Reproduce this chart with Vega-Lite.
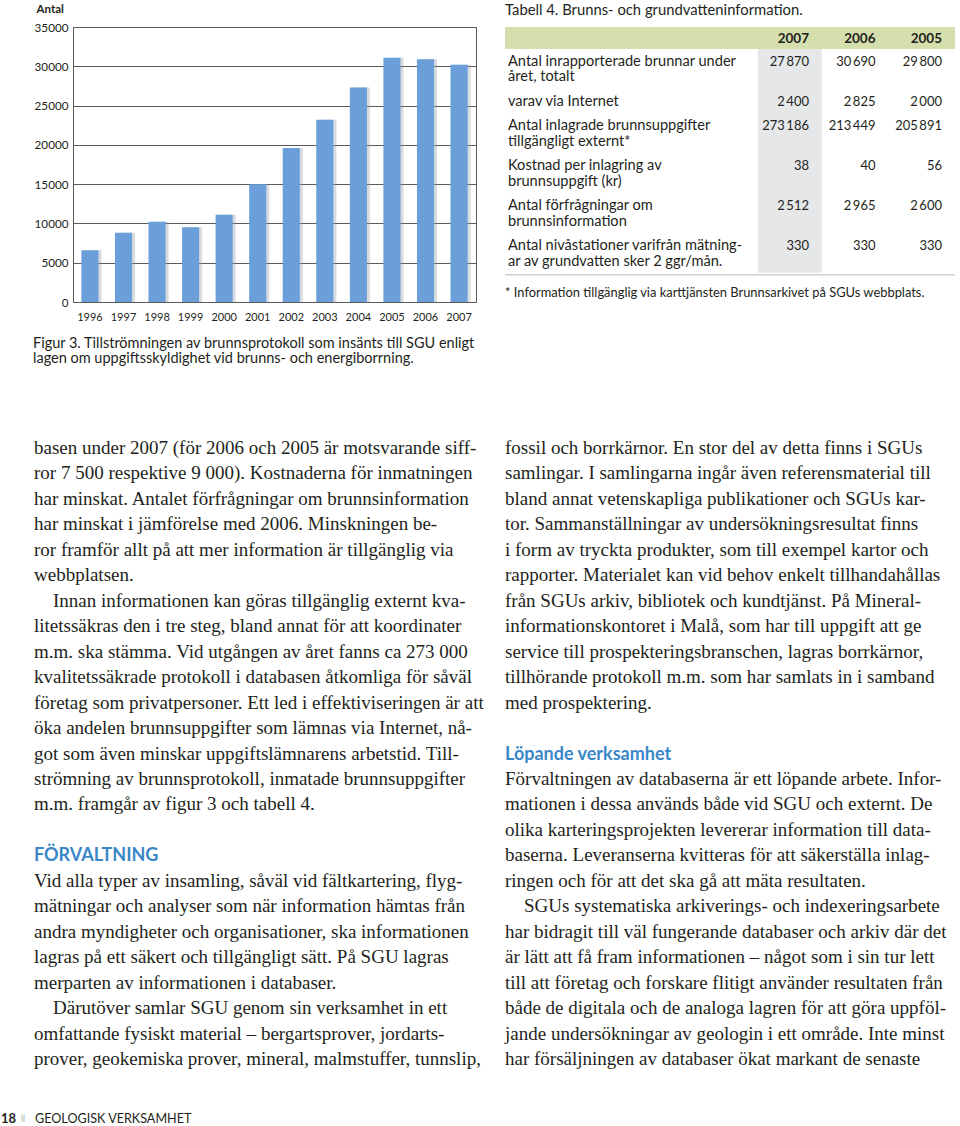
{
  "$schema": "https://vega.github.io/schema/vega-lite/v6.json",
  "background": "white",
  "padding": {"top": 3, "left": 0, "right": 0, "bottom": 0},
  "config": {
    "view": {"stroke": null},
    "font": "Lato",
    "locale": {"number": {"decimal": ",", "thousands": "\u2009", "grouping": [3], "currency": ["", " kr"]}}
  },
  "datasets": {
    "brunnar": [
      {"year": "1996", "antal": 6600},
      {"year": "1997", "antal": 8800},
      {"year": "1998", "antal": 10200},
      {"year": "1999", "antal": 9500},
      {"year": "2000", "antal": 11100},
      {"year": "2001", "antal": 15000},
      {"year": "2002", "antal": 19600},
      {"year": "2003", "antal": 23200},
      {"year": "2004", "antal": 27300},
      {"year": "2005", "antal": 31100},
      {"year": "2006", "antal": 30900},
      {"year": "2007", "antal": 30200}
    ],
    "tabell": [
      {"row": 2, "label": "Antal inrapporterade brunnar under\nåret, totalt", "2007": 27870, "2006": 30690, "2005": 29800},
      {"row": 3, "label": "varav via Internet", "2007": 2400, "2006": 2825, "2005": 2000},
      {"row": 4, "label": "Antal inlagrade brunnsuppgifter\ntillgängligt externt*", "2007": 273186, "2006": 213449, "2005": 205891},
      {"row": 5, "label": "Kostnad per inlagring av\nbrunnsuppgift (kr)", "2007": 38, "2006": 40, "2005": 56},
      {"row": 6, "label": "Antal förfrågningar om\nbrunnsinformation", "2007": 2512, "2006": 2965, "2005": 2600},
      {"row": 7, "label": "Antal nivåstationer varifrån mätning-\nar av grundvatten sker 2 ggr/mån.", "2007": 330, "2006": 330, "2005": 330}
    ],
    "body": [
      {"col": "left", "line": 0, "kind": "p", "text": "basen under 2007 (för 2006 och 2005 är motsvarande siff-"},
      {"col": "left", "line": 1, "kind": "p", "text": "ror 7 500 respektive 9 000). Kostnaderna för inmatningen"},
      {"col": "left", "line": 2, "kind": "p", "text": "har minskat. Antalet förfrågningar om brunnsinformation"},
      {"col": "left", "line": 3, "kind": "p", "text": "har minskat i jämförelse med 2006. Minskningen be-"},
      {"col": "left", "line": 4, "kind": "p", "text": "ror framför allt på att mer information är tillgänglig via"},
      {"col": "left", "line": 5, "kind": "p", "text": "webbplatsen."},
      {"col": "left", "line": 6, "kind": "p", "text": "\u200b\u00a0\u00a0\u00a0\u00a0Innan informationen kan göras tillgänglig externt kva-"},
      {"col": "left", "line": 7, "kind": "p", "text": "litetssäkras den i tre steg, bland annat för att koordinater"},
      {"col": "left", "line": 8, "kind": "p", "text": "m.m. ska stämma. Vid utgången av året fanns ca 273 000"},
      {"col": "left", "line": 9, "kind": "p", "text": "kvalitetssäkrade protokoll i databasen åtkomliga för såväl"},
      {"col": "left", "line": 10, "kind": "p", "text": "företag som privatpersoner. Ett led i effektiviseringen är att"},
      {"col": "left", "line": 11, "kind": "p", "text": "öka andelen brunnsuppgifter som lämnas via Internet, nå-"},
      {"col": "left", "line": 12, "kind": "p", "text": "got som även minskar uppgiftslämnarens arbetstid. Till-"},
      {"col": "left", "line": 13, "kind": "p", "text": "strömning av brunnsprotokoll, inmatade brunnsuppgifter"},
      {"col": "left", "line": 14, "kind": "p", "text": "m.m. framgår av figur 3 och tabell 4."},
      {"col": "left", "line": 16, "kind": "h", "text": "FÖRVALTNING"},
      {"col": "left", "line": 17, "kind": "p", "text": "Vid alla typer av insamling, såväl vid fältkartering, flyg-"},
      {"col": "left", "line": 18, "kind": "p", "text": "mätningar och analyser som när information hämtas från"},
      {"col": "left", "line": 19, "kind": "p", "text": "andra myndigheter och organisationer, ska informationen"},
      {"col": "left", "line": 20, "kind": "p", "text": "lagras på ett säkert och tillgängligt sätt. På SGU lagras"},
      {"col": "left", "line": 21, "kind": "p", "text": "merparten av informationen i databaser."},
      {"col": "left", "line": 22, "kind": "p", "text": "\u200b\u00a0\u00a0\u00a0\u00a0Därutöver samlar SGU genom sin verksamhet in ett"},
      {"col": "left", "line": 23, "kind": "p", "text": "omfattande fysiskt material – bergartsprover, jordarts-"},
      {"col": "left", "line": 24, "kind": "p", "text": "prover, geokemiska prover, mineral, malmstuffer, tunnslip,"},
      {"col": "right", "line": 0, "kind": "p", "text": "fossil och borrkärnor. En stor del av detta finns i SGUs"},
      {"col": "right", "line": 1, "kind": "p", "text": "samlingar. I samlingarna ingår även referensmaterial till"},
      {"col": "right", "line": 2, "kind": "p", "text": "bland annat vetenskapliga publikationer och SGUs kar-"},
      {"col": "right", "line": 3, "kind": "p", "text": "tor. Sammanställningar av undersökningsresultat finns"},
      {"col": "right", "line": 4, "kind": "p", "text": "i form av tryckta produkter, som till exempel kartor och"},
      {"col": "right", "line": 5, "kind": "p", "text": "rapporter. Materialet kan vid behov enkelt tillhandahållas"},
      {"col": "right", "line": 6, "kind": "p", "text": "från SGUs arkiv, bibliotek och kundtjänst. På Mineral-"},
      {"col": "right", "line": 7, "kind": "p", "text": "informationskontoret i Malå, som har till uppgift att ge"},
      {"col": "right", "line": 8, "kind": "p", "text": "service till prospekteringsbranschen, lagras borrkärnor,"},
      {"col": "right", "line": 9, "kind": "p", "text": "tillhörande protokoll m.m. som har samlats in i samband"},
      {"col": "right", "line": 10, "kind": "p", "text": "med prospektering."},
      {"col": "right", "line": 12, "kind": "h", "text": "Löpande verksamhet"},
      {"col": "right", "line": 13, "kind": "p", "text": "Förvaltningen av databaserna är ett löpande arbete. Infor-"},
      {"col": "right", "line": 14, "kind": "p", "text": "mationen i dessa används både vid SGU och externt. De"},
      {"col": "right", "line": 15, "kind": "p", "text": "olika karteringsprojekten levererar information till data-"},
      {"col": "right", "line": 16, "kind": "p", "text": "baserna. Leveranserna kvitteras för att säkerställa inlag-"},
      {"col": "right", "line": 17, "kind": "p", "text": "ringen och för att det ska gå att mäta resultaten."},
      {"col": "right", "line": 18, "kind": "p", "text": "\u200b\u00a0\u00a0\u00a0\u00a0SGUs systematiska arkiverings- och indexeringsarbete"},
      {"col": "right", "line": 19, "kind": "p", "text": "har bidragit till väl fungerande databaser och arkiv där det"},
      {"col": "right", "line": 20, "kind": "p", "text": "är lätt att få fram informationen – något som i sin tur lett"},
      {"col": "right", "line": 21, "kind": "p", "text": "till att företag och forskare flitigt använder resultaten från"},
      {"col": "right", "line": 22, "kind": "p", "text": "både de digitala och de analoga lagren för att göra uppföl-"},
      {"col": "right", "line": 23, "kind": "p", "text": "jande undersökningar av geologin i ett område. Inte minst"},
      {"col": "right", "line": 24, "kind": "p", "text": "har försäljningen av databaser ökat markant de senaste"}
    ]
  },
  "spacing": 10,
  "vconcat": [
    {
      "hconcat": [
        {
          "width": 44,
          "height": 1,
          "data": {"values": [{}]},
          "mark": {"type": "text", "text": ""}
        },
        {
          "width": 403,
          "height": 275,
          "view": {"stroke": "#5a5a5a", "strokeWidth": 1},
          "data": {"name": "brunnar"},
          "title": {
            "text": ["Figur 3. Tillströmningen av brunnsprotokoll som insänts till SGU enligt", "lagen om uppgiftsskyldighet vid brunns- och energiborrning."],
            "orient": "bottom",
            "anchor": "start",
            "frame": "group",
            "dx": -40,
            "offset": 26,
            "baseline": "alphabetic",
            "font": "Lato",
            "fontSize": 14.5,
            "fontWeight": "normal",
            "color": "#231f20",
            "lineHeight": 15
          },
          "encoding": {
            "x": {
              "field": "year",
              "type": "ordinal",
              "scale": {"paddingInner": 0.49, "paddingOuter": 0.25},
              "axis": {"title": null, "labelAngle": 0, "ticks": false, "domain": false, "labelPadding": 9, "labelFontSize": 11, "labelColor": "#231f20", "labelFont": "Lato"}
            },
            "y": {
              "field": "antal",
              "type": "quantitative",
              "scale": {"domain": [0, 35000], "nice": false},
              "axis": {
                "values": [0, 5000, 10000, 15000, 20000, 25000, 30000, 35000],
                "format": "d",
                "grid": true,
                "gridColor": "#5a5a5a",
                "gridOpacity": 1,
                "ticks": false,
                "domain": false,
                "labelPadding": 5,
                "labelFontSize": 11.7,
                "labelFont": "Lato",
                "labelColor": "#231f20",
                "title": "Antal",
                "titleAngle": 0,
                "titleAlign": "left",
                "titleBaseline": "alphabetic",
                "titleX": -37,
                "titleY": -14.3,
                "titleFont": "Lato",
                "titleFontSize": 11.5,
                "titleFontWeight": "bold",
                "titleColor": "#231f20"
              }
            }
          },
          "layer": [
            {
              "mark": {"type": "bar", "color": "#8e97a3", "opacity": 0.35},
              "encoding": {"xOffset": {"value": 3}}
            },
            {
              "mark": {"type": "bar", "color": "#6a9fd9"}
            }
          ]
        },
        {
          "width": 450,
          "height": 275,
          "layer": [
            {
              "data": {"values": [{}]},
              "mark": {"type": "rect", "color": "#d4dfad"},
              "encoding": {"x": {"value": 0}, "x2": {"value": 450}, "y": {"value": 0}, "y2": {"value": 22}}
            },
            {
              "data": {"values": [{}]},
              "mark": {"type": "rect", "color": "#e5e7e9"},
              "encoding": {"x": {"value": 252.7}, "x2": {"value": 316.7}, "y": {"value": 22}, "y2": {"value": 245.7}}
            },
            {
              "data": {"values": [{}]},
              "mark": {"type": "rule", "color": "#cfcfcf", "strokeWidth": 1.5},
              "encoding": {"x": {"value": 0}, "x2": {"value": 450}, "y": {"value": 247.7}}
            },
            {
              "data": {"values": [
                {"row": 0, "kind": "title", "text": "Tabell 4. Brunns- och grundvatteninformation."},
                {"row": 8, "kind": "note", "text": "* Information tillgänglig via karttjänsten Brunnsarkivet på SGUs webbplats."}
              ]},
              "mark": {"type": "text", "align": "left", "baseline": "alphabetic", "font": "Lato", "color": "#231f20"},
              "encoding": {
                "x": {"value": 0},
                "y": {"field": "row", "type": "quantitative"},
                "text": {"field": "text"},
                "size": {"condition": {"test": "datum.kind === 'title'", "value": 14.8}, "value": 12.9}
              }
            },
            {
              "data": {"values": [
                {"row": 1, "year": "2007"},
                {"row": 1, "year": "2006"},
                {"row": 1, "year": "2005"}
              ]},
              "mark": {"type": "text", "align": "right", "baseline": "alphabetic", "font": "Lato", "fontWeight": "bold", "fontSize": 13.5, "color": "#231f20"},
              "encoding": {
                "x": {"field": "year", "type": "nominal"},
                "y": {"field": "row", "type": "quantitative"},
                "text": {"field": "year"}
              }
            },
            {
              "data": {"name": "tabell"},
              "mark": {"type": "text", "align": "left", "baseline": "alphabetic", "font": "Lato", "fontSize": 14.6, "color": "#231f20", "lineBreak": "\n", "lineHeight": 15.3, "dx": 3},
              "encoding": {
                "x": {"value": 0},
                "y": {"field": "row", "type": "quantitative"},
                "text": {"field": "label"}
              }
            },
            {
              "data": {"name": "tabell"},
              "transform": [{"fold": ["2007", "2006", "2005"], "as": ["year", "value"]}],
              "mark": {"type": "text", "align": "right", "baseline": "alphabetic", "font": "Lato", "fontSize": 13, "color": "#231f20"},
              "encoding": {
                "x": {"field": "year", "type": "nominal"},
                "y": {"field": "row", "type": "quantitative"},
                "text": {"field": "value", "type": "quantitative", "format": ",d"}
              }
            }
          ],
          "encoding": {
            "x": {"field": "year", "type": "nominal", "scale": {"type": "point", "domain": ["2007", "2006", "2005"], "range": [304, 437], "padding": 0}, "axis": null},
            "y": {"field": "row", "type": "quantitative", "scale": {"domain": [0, 1, 2, 3, 4, 5, 6, 7, 8], "range": [-12, 16, 38.7, 78.7, 103.4, 143.4, 183.4, 223.4, 270.4], "zero": false, "nice": false}, "axis": null}
          }
        }
      ],
      "spacing": 29,
      "bounds": "flush"
    },
    {
      "width": 960,
      "height": 724,
      "data": {"name": "body"},
      "encoding": {
        "x": {"field": "col", "type": "nominal", "scale": {"type": "point", "domain": ["left", "right"], "range": [34, 505], "padding": 0}, "axis": null},
        "y": {"field": "line", "type": "quantitative", "scale": {"domain": [-3.063, 25.374], "reverse": true, "nice": false, "zero": false}, "axis": null},
        "text": {"field": "text"}
      },
      "layer": [
        {
          "transform": [{"filter": "datum.kind === 'p'"}],
          "mark": {"type": "text", "align": "left", "baseline": "alphabetic", "font": "Liberation Serif", "fontSize": 19, "color": "#231f20"}
        },
        {
          "transform": [{"filter": "datum.kind === 'h'"}],
          "mark": {"type": "text", "align": "left", "baseline": "alphabetic", "font": "Lato", "fontWeight": "bold", "fontSize": 18, "color": "#3a87c8"}
        }
      ]
    },
    {
      "width": 960,
      "height": 17,
      "data": {"values": [
        {"part": "page", "text": "18"},
        {"part": "sep", "text": "||"},
        {"part": "title", "text": "GEOLOGISK VERKSAMHET"}
      ]},
      "encoding": {
        "x": {"field": "part", "type": "nominal", "scale": {"type": "point", "domain": ["page", "sep", "title"], "range": [1, 35], "padding": 0}, "axis": null},
        "text": {"field": "text"}
      },
      "layer": [
        {
          "transform": [{"filter": "datum.part === 'page'"}],
          "mark": {"type": "text", "align": "left", "baseline": "middle", "font": "Lato", "fontSize": 13, "fontWeight": "bold", "color": "#231f20"}
        },
        {
          "transform": [{"filter": "datum.part === 'sep'"}],
          "mark": {"type": "text", "align": "center", "baseline": "middle", "font": "Lato", "fontSize": 8, "color": "#8a8a8a", "dx": 5}
        },
        {
          "transform": [{"filter": "datum.part === 'title'"}],
          "mark": {"type": "text", "align": "left", "baseline": "middle", "font": "Lato", "fontSize": 12.6, "color": "#231f20"}
        }
      ]
    }
  ]
}
